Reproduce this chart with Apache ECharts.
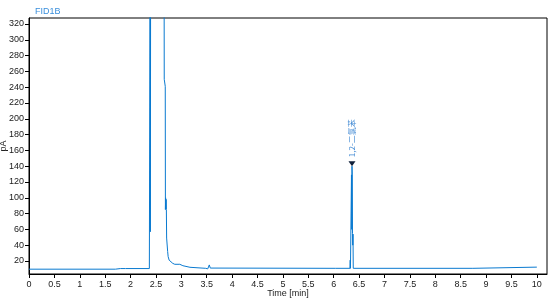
<!DOCTYPE html>
<html><head><meta charset="utf-8">
<script src="https://cdn.jsdelivr.net/npm/echarts@6/dist/echarts.min.js"></script>
<style>html,body{margin:0;padding:0;background:#fff}#c{width:554px;height:300px}</style>
</head><body><div id="c"></div>
<script>
// time in minutes, signal in pA (off-scale values above the axis max are clipped)
const times = [0, 1.70, 1.701, 1.705, 1.72, 1.725, 1.80, 1.81, 1.82, 1.90, 1.91, 1.92, 2.37, 2.38, 2.385, 2.39, 2.395, 2.40, 2.66, 2.663, 2.683, 2.686, 2.69, 2.693, 2.70, 2.705, 2.71, 2.73, 2.74, 2.76, 2.795, 2.83, 2.87, 2.97, 2.98, 3.03, 3.04, 3.17, 3.18, 3.48, 3.50, 3.52, 3.55, 3.57, 3.60, 6.04, 6.05, 6.06, 6.32, 6.325, 6.33, 6.345, 6.35, 6.355, 6.36, 6.365, 6.37, 6.375, 6.38, 6.385, 8.74, 8.75, 10.0];
const signal = [9.6, 9.6, 11.5, 9.6, 9.6, 10.4, 10.4, 11.2, 10.4, 10.4, 11.0, 10.4, 10.4, 10.4, 400, 57, 400, 400, 400, 250, 241, 85, 100, 86, 98, 85, 49, 32, 25.5, 21, 19, 17, 15.8, 15.8, 14, 14, 12, 12, 10.7, 10.7, 12, 10, 15, 11, 10.7, 10.7, 12.6, 10.7, 10.7, 21, 10.7, 10.7, 129, 60, 140, 129, 55, 40, 54, 10.7, 10.7, 12.2, 12.2];
const xTicks = [0, 0.5, 1, 1.5, 2, 2.5, 3, 3.5, 4, 4.5, 5, 5.5, 6, 6.5, 7, 7.5, 8, 8.5, 9, 9.5, 10];
const yTicks = [20, 40, 60, 80, 100, 120, 140, 160, 180, 200, 220, 240, 260, 280, 300, 320];
const peakName = ['1,2-二氯苯'];
const peakTime = [6.36];
const peakHeight = [140];

const seriesData = times.map((t, i) => [t, signal[i]]);
const chart = echarts.init(document.getElementById('c'), null, {renderer: 'canvas'});
const font = 'Liberation Sans, Arial, sans-serif';
chart.setOption({
  animation: false,
  title: {text: 'FID1B', left: 30, top: 2,
    textStyle: {fontFamily: font, fontSize: 9, fontWeight: 'normal', color: '#3a8fdc'}},
  grid: {left: 29, top: 18, right: 7, bottom: 26, show: true, borderColor: '#000', borderWidth: 1,
    containLabel: false, outerBoundsMode: 'none'},
  xAxis: {type: 'value', min: 0, max: 10.2,
    name: 'Time [min]', nameLocation: 'middle', nameGap: 15, nameMoveOverlap: false,
    nameTextStyle: {fontFamily: font, fontSize: 9, color: '#222'},
    axisLine: {show: true, onZero: false, lineStyle: {color: '#000', width: 1}},
    axisTick: {show: true, length: 4, customValues: xTicks, lineStyle: {color: '#000'}},
    axisLabel: {customValues: xTicks, margin: 6, fontFamily: font, fontSize: 9, color: '#1a1a1a'},
    splitLine: {show: false}},
  yAxis: {type: 'value', min: 3.5, max: 327.6,
    name: 'pA', nameLocation: 'middle', nameGap: 21, nameRotate: 90, nameMoveOverlap: false,
    nameTextStyle: {fontFamily: font, fontSize: 9, color: '#222'},
    axisLine: {show: true, onZero: false, lineStyle: {color: '#000', width: 1}},
    axisTick: {show: true, length: 4, customValues: yTicks, lineStyle: {color: '#000'}},
    axisLabel: {customValues: yTicks, margin: 5, fontFamily: font, fontSize: 9, color: '#1a1a1a'},
    splitLine: {show: false}},
  series: [{
    type: 'line', data: seriesData, showSymbol: false, symbol: 'none',
    lineStyle: {color: '#0a7ad0', width: 1}, clip: true, smooth: false,
    markPoint: {
      symbol: 'triangle', symbolSize: [7, 5], symbolRotate: 180, symbolOffset: [0, -2.5],
      itemStyle: {color: '#10203a'},
      label: {show: true, formatter: '{b}', rotate: 90, position: [3.5, -4],
        align: 'left', verticalAlign: 'middle',
        fontFamily: 'Noto Sans CJK SC', fontSize: 8, color: '#4a8fd6'},
      data: peakName.map((n, i) => ({name: n, coord: [peakTime[i], peakHeight[i]]}))
    }
  }]
});
</script></body></html>
